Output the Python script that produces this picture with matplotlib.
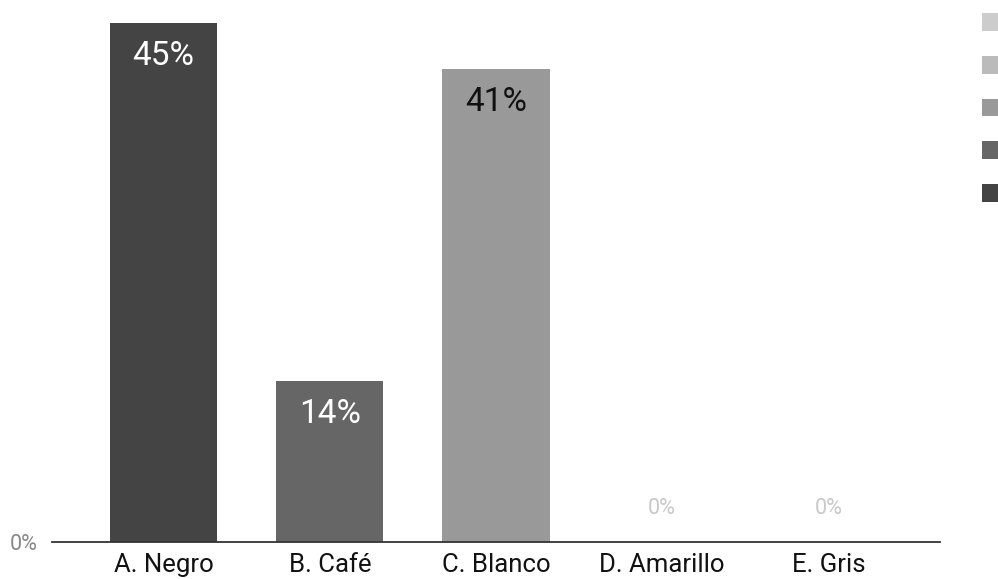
import matplotlib
matplotlib.use("Agg")
import matplotlib.pyplot as plt
from matplotlib.patches import Patch

categories = ["A. Negro", "B. Café", "C. Blanco", "D. Amarillo", "E. Gris"]
values = [45, 14, 41, 0, 0]
labels = ["45%", "14%", "41%", "0%", "0%"]
colors = ["#444444", "#666666", "#999999", "#bbbbbb", "#cccccc"]
label_colors = ["white", "white", "#111111", "#c8c8c8", "#c8c8c8"]

plt.rcParams['font.family'] = ['Roboto', 'DejaVu Sans']

W, H = 998, 579
fig = plt.figure(figsize=(W / 100, H / 100), dpi=100)
ax = fig.add_axes([52 / W, 37 / H, 888 / W, 542 / H])

x = list(range(len(categories)))
ax.bar(x, values, width=0.645, color=colors)
ax.set_xlim(-0.672, len(categories) - 1 + 0.672)
ax.set_ylim(0, 47.0)

for xi, v, lab, c in zip(x, values, labels, label_colors):
    if v > 0:
        ax.annotate(lab, (xi, v), xytext=(0, -33), textcoords="offset pixels",
                    ha="center", va="center", fontsize=24, color=c)
    else:
        ax.annotate(lab, (xi, v), xytext=(0, 34), textcoords="offset pixels",
                    ha="center", va="center", fontsize=15.5, color=c)

ax.set_xticks(x)
ax.set_xticklabels(categories, fontsize=18.5, color="#111111")
ax.set_yticks([0])
ax.set_yticklabels(["0%"], fontsize=15.5, color="#888888")
ax.tick_params(axis="x", length=0, pad=8)
ax.tick_params(axis="y", length=0, pad=10)
for s in ["top", "right", "left"]:
    ax.spines[s].set_visible(False)
ax.spines["bottom"].set_color("#333333")
ax.spines["bottom"].set_linewidth(1.3)

handles = [Patch(facecolor=c, edgecolor="none") for c in colors][::-1]
leg_labels = [""] * len(handles)
leg = fig.legend(handles, leg_labels, loc="upper left",
                 bbox_to_anchor=(982 / W, 1 - 13 / H), frameon=False,
                 handlelength=1.0, handleheight=1.0, handletextpad=0.5,
                 labelspacing=1.15, fontsize=14.4, borderaxespad=0, borderpad=0)

fig.savefig("out.png", dpi=100)
